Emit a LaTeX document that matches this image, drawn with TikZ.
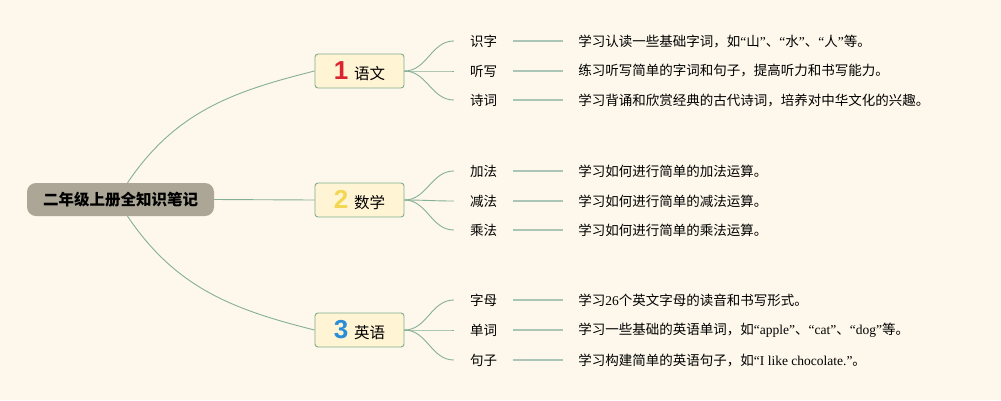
\documentclass[tikz,border=0pt]{standalone}
\usepackage{fontspec}
\setmainfont{Liberation Serif}
\newfontfamily\cjk{Noto Sans CJK SC}
\newfontfamily\numfont{Liberation Sans}
\usetikzlibrary{positioning}
\definecolor{paper}{HTML}{FDF8EB}
\definecolor{rootfill}{HTML}{ABA696}
\definecolor{boxfill}{HTML}{FFF4D4}
\definecolor{boxline}{HTML}{7FAE8D}
\definecolor{twig}{HTML}{86AF98}
\definecolor{leafline}{HTML}{ABC6B6}
\definecolor{numred}{HTML}{DA2430}
\definecolor{numyellow}{HTML}{F3D651}
\definecolor{numblue}{HTML}{2A8ED7}
\newcommand{\enword}[1]{{\rmfamily #1}}
\newcommand{\subjnum}[2]{{\numfont\bfseries\fontsize{26}{26}\selectfont\color{#1}#2}\hspace{6pt}}

\begin{document}
\begin{tikzpicture}[x=1pt,y=1pt,
  rootbox/.style={fill=rootfill, rounded corners=9pt, minimum width=187pt,
        minimum height=33pt, inner sep=0pt, font=\cjk\bfseries\fontsize{15.5}{18}\selectfont},
  subject/.style={draw=boxline, line width=0.9pt, fill=boxfill, rounded corners=3pt, minimum width=89pt,
        minimum height=34pt, inner sep=0pt, font=\cjk\fontsize{15.5}{18}\selectfont},
  topic/.style={minimum width=59pt, inner sep=0pt, font=\cjk\fontsize{13.5}{16}\selectfont},
  note/.style={inner xsep=15pt, inner ysep=0pt, font=\cjk\fontsize{13.5}{16}\selectfont},
  branch/.style={draw=twig, line width=0.9pt},
  twigline/.style={draw=leafline, line width=1.2pt}]
  \fill[paper] (0,0) rectangle (1001,-400);

  % root and subjects
  \node[rootbox] (root) at (120.5,-199.5) {二年级上册全知识笔记};
  \node[subject] (s1) at (359.5,-71) {\subjnum{numred}{1}语文};
  \node[subject] (s2) at (359.5,-200) {\subjnum{numyellow}{2}数学};
  \node[subject] (s3) at (359.5,-330) {\subjnum{numblue}{3}英语};

  \draw[branch] ([xshift=7pt]root.north) to[out=56,in=194] (s1.west);
  \draw[branch] (root.east) -- (s2.west);
  \draw[branch] ([xshift=7pt]root.south) to[out=-56,in=166] (s3.west);

  % 语文
  \node[topic] (t11) at (483.5,-41) {识字};
  \node[topic] (t12) at (483.5,-71) {听写};
  \node[topic] (t13) at (483.5,-100) {诗词};
  \node[note, right=50pt of t11] (n11) {学习认读一些基础字词，如\enword{“}山\enword{”}、\enword{“}水\enword{”}、\enword{“}人\enword{”}等。};
  \node[note, right=50pt of t12] (n12) {练习听写简单的字词和句子，提高听力和书写能力。};
  \node[note, right=50pt of t13] (n13) {学习背诵和欣赏经典的古代诗词，培养对中华文化的兴趣。};

  % 数学
  \node[topic] (t21) at (483.5,-171) {加法};
  \node[topic] (t22) at (483.5,-201) {减法};
  \node[topic] (t23) at (483.5,-230) {乘法};
  \node[note, right=50pt of t21] (n21) {学习如何进行简单的加法运算。};
  \node[note, right=50pt of t22] (n22) {学习如何进行简单的减法运算。};
  \node[note, right=50pt of t23] (n23) {学习如何进行简单的乘法运算。};

  % 英语
  \node[topic] (t31) at (483.5,-300) {字母};
  \node[topic] (t32) at (483.5,-330) {单词};
  \node[topic] (t33) at (483.5,-360) {句子};
  \node[note, right=50pt of t31] (n31) {学习\enword{26}个英文字母的读音和书写形式。};
  \node[note, right=50pt of t32] (n32) {学习一些基础的英语单词，如\enword{“apple”}、\enword{“cat”}、\enword{“dog”}等。};
  \node[note, right=50pt of t33] (n33) {学习构建简单的英语句子，如\enword{“I like chocolate.”}。};

  \foreach \s in {1,2,3}{
    \foreach \t in {1,2,3}{
      \draw[branch] (s\s.east) to[out=0,in=180] (t\s\t.west);
      \draw[twigline] (t\s\t) -- (n\s\t);
    }
  }
\end{tikzpicture}
\end{document}
